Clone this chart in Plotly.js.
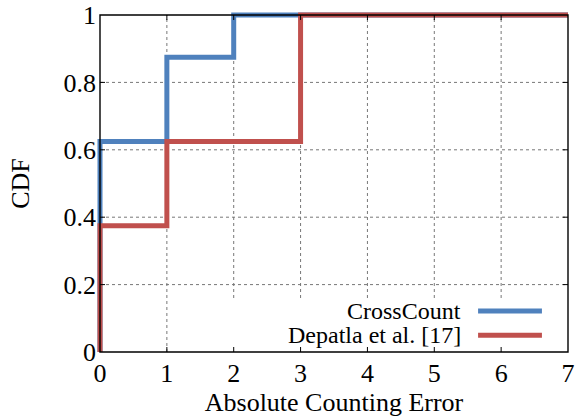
<!DOCTYPE html>
<html><head><meta charset="utf-8">
<script src="https://cdn.plot.ly/plotly-3.0.1.min.js"></script>
<style>body{margin:0;padding:0;background:#fff}#c{width:579px;height:420px}</style>
</head><body><div id="c"></div>
<script>
const crossX = [0, 0, 1, 1, 2, 2, 7];
const crossY = [0, 0.625, 0.625, 0.875, 0.875, 1, 1];
const depX = [0, 0, 1, 1, 3, 3, 7];
const depY = [0, 0.375, 0.375, 0.625, 0.625, 1, 1];
const seriesNames = ['CrossCount', 'Depatla et al. [17]'];
const seriesColors = ['#4f81bd', '#c0504d'];
const xTicks = [0, 1, 2, 3, 4, 5, 6, 7];
const yTicks = [0, 0.2, 0.4, 0.6, 0.8, 1];
const yTickText = ['0', '0.2', '0.4', '0.6', '0.8', '1'];

const FAM = 'Liberation Serif';
function f(size) { return {family: FAM, size: size, color: '#000'}; }

// Plot area is padded by a few pixels beyond the data frame so thick lines at the edges are not clipped
const PAD = 3;
const W = 579, H = 420;
const frameL = 100, frameR = 568, frameT = 15, frameB = 352;
const xMin = 0, xMax = 7, yMin = 0, yMax = 1;
const pxPerX = (frameR - frameL) / (xMax - xMin);
const pxPerY = (frameB - frameT) / (yMax - yMin);
const xPad = PAD / pxPerX, yPad = PAD / pxPerY;
const tickLen = 5;
const tx = tickLen / pxPerY, ty = tickLen / pxPerX;

const traces = [
  {x: crossX, y: crossY, mode: 'lines', line: {color: seriesColors[0], width: 5}, name: seriesNames[0], showlegend: false},
  {x: depX, y: depY, mode: 'lines', line: {color: seriesColors[1], width: 5}, name: seriesNames[1], showlegend: false}
];

const shapes = [];
// grid
xTicks.filter(v => v > xMin && v < xMax).forEach(v => shapes.push({type: 'line', xref: 'x', yref: 'y', x0: v, x1: v, y0: yMin, y1: yMax, line: {color: '#777', width: 1, dash: 'dot'}, layer: 'below'}));
yTicks.filter(v => v > yMin && v < yMax).forEach(v => shapes.push({type: 'line', xref: 'x', yref: 'y', x0: xMin, x1: xMax, y0: v, y1: v, line: {color: '#777', width: 1, dash: 'dot'}, layer: 'below'}));
// legend background (hides grid)
shapes.push({type: 'rect', xref: 'x', yref: 'y', x0: 1.6, x1: xMax, y0: yMin, y1: 0.16, fillcolor: '#fff', line: {width: 0}, layer: 'below'});
// frame
shapes.push({type: 'rect', xref: 'x', yref: 'y', x0: xMin, x1: xMax, y0: yMin, y1: yMax, line: {color: '#000', width: 1.4}, fillcolor: 'rgba(0,0,0,0)', layer: 'above'});
// inward ticks, mirrored
xTicks.filter(v => v > xMin && v < xMax).forEach(v => {
  shapes.push({type: 'line', xref: 'x', yref: 'y', x0: v, x1: v, y0: yMin, y1: yMin + tx, line: {color: '#000', width: 1}});
  shapes.push({type: 'line', xref: 'x', yref: 'y', x0: v, x1: v, y0: yMax, y1: yMax - tx, line: {color: '#000', width: 1}});
});
yTicks.filter(v => v > yMin && v < yMax).forEach(v => {
  shapes.push({type: 'line', xref: 'x', yref: 'y', x0: xMin, x1: xMin + ty, y0: v, y1: v, line: {color: '#000', width: 1}});
  shapes.push({type: 'line', xref: 'x', yref: 'y', x0: xMax, x1: xMax - ty, y0: v, y1: v, line: {color: '#000', width: 1}});
});
// legend samples
const legY = [0.122, 0.05];
shapes.push({type: 'line', xref: 'x', yref: 'y', x0: 5.655, x1: 6.61, y0: legY[0], y1: legY[0], line: {color: seriesColors[0], width: 5}, layer: 'above'});
shapes.push({type: 'line', xref: 'x', yref: 'y', x0: 5.655, x1: 6.61, y0: legY[1], y1: legY[1], line: {color: seriesColors[1], width: 5}, layer: 'above'});

const annotations = seriesNames.map((n, i) => ({
  xref: 'x', yref: 'y', x: 5.43, y: legY[i], xanchor: 'right', yanchor: 'middle',
  text: n, showarrow: false, font: f(24)
}));

const layout = {
  width: W, height: H,
  margin: {l: frameL - PAD, r: W - frameR - PAD, t: frameT - PAD, b: H - frameB - PAD},
  paper_bgcolor: '#fff', plot_bgcolor: '#fff',
  font: f(26),
  xaxis: {range: [xMin - xPad, xMax + xPad], tickvals: xTicks, ticktext: xTicks.map(String),
    showgrid: false, zeroline: false, showline: false, ticks: '', tickfont: f(26),
    title: {text: 'Absolute Counting Error', font: f(26), standoff: 2}},
  yaxis: {range: [yMin - yPad, yMax + yPad], tickvals: yTicks, ticktext: yTickText,
    showgrid: false, zeroline: false, showline: false, ticks: '', tickfont: f(26),
    title: {text: 'CDF', font: f(26), standoff: 26}},
  shapes: shapes,
  annotations: annotations
};

Plotly.newPlot('c', traces, layout, {displayModeBar: false, staticPlot: true});
</script>
</body></html>
